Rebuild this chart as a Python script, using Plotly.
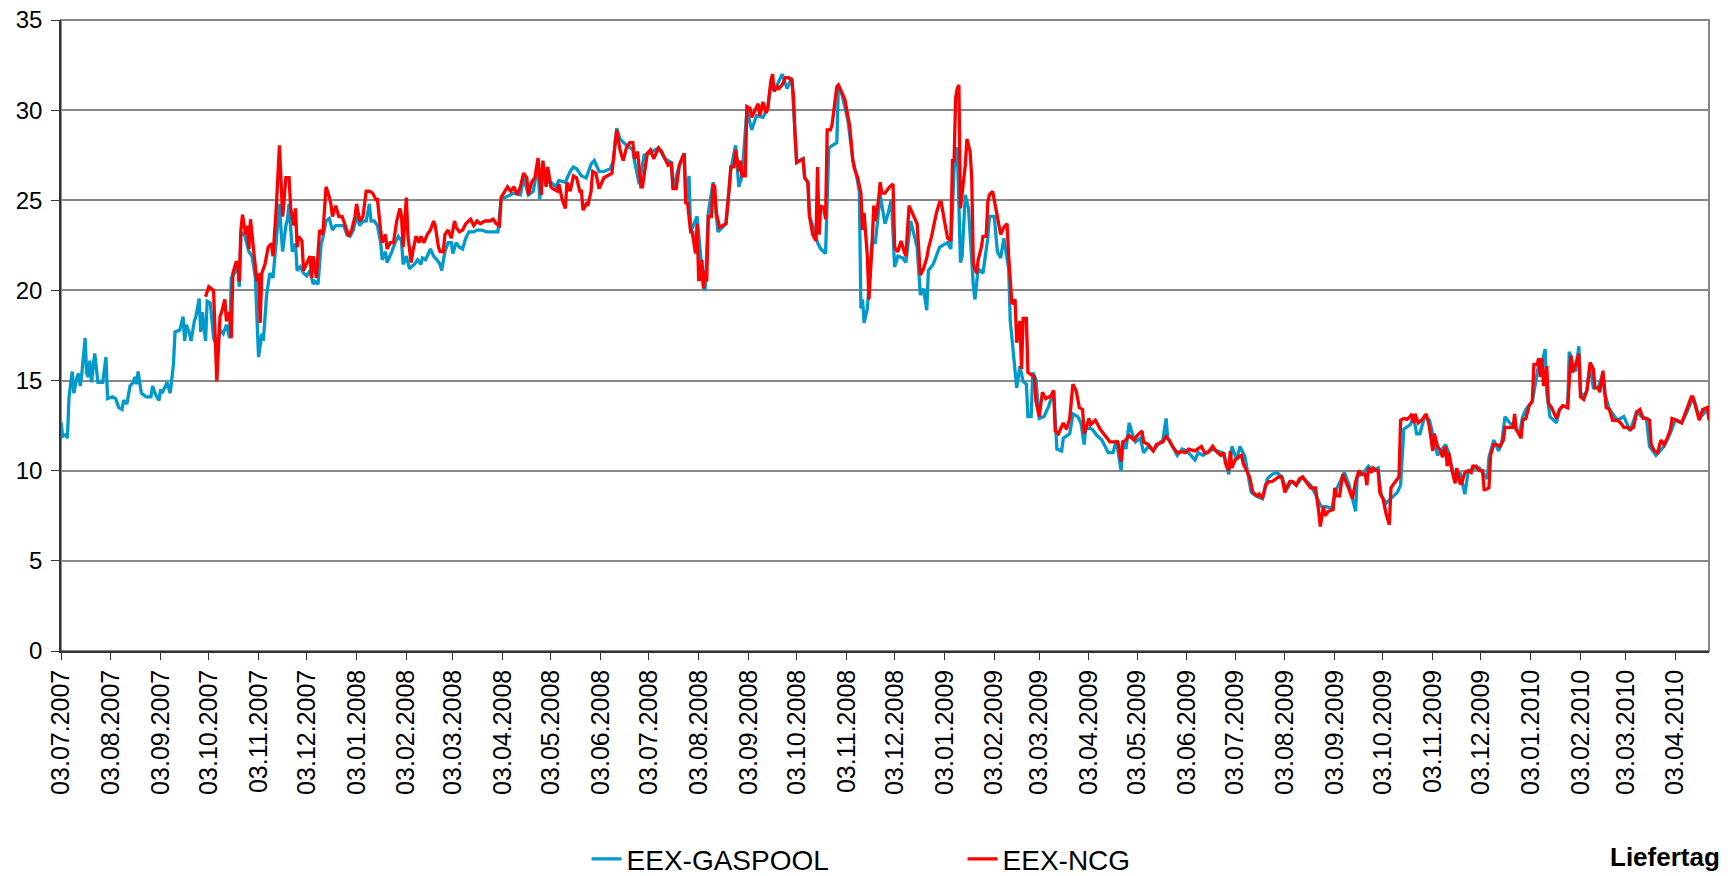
import pandas as pd
import plotly.graph_objects as go

# Delivery days are stored as day offsets from the first delivery day (03.07.2007)
START_DAY = "2007-07-03"
END_DAY = "2010-04-24"

gaspool_day = [
    0, 1, 3, 4, 5, 6, 7, 8, 10, 11, 12, 13, 15, 16, 17, 18, 19, 21, 23, 26, 28, 29, 32, 34, 36, 38, 39, 41,
    43, 45, 46, 47, 48, 50, 53, 56, 57, 59, 61, 62, 63, 66, 68, 70, 71, 74, 76, 77, 78, 80, 81, 83, 84, 86,
    87, 88, 89, 90, 91, 93, 95, 97, 99, 101, 103, 105, 106, 108, 110, 111, 112, 114, 117, 119, 121, 122, 123,
    125, 126, 128, 130, 132, 134, 136, 137, 138, 140, 141, 142, 144, 146, 147, 149, 151, 153, 155, 157, 158,
    160, 162, 163, 165, 167, 169, 171, 174, 176, 178, 180, 182, 184, 186, 188, 190, 192, 193, 195, 197, 199,
    200, 202, 203, 205, 206, 208, 210, 212, 213, 215, 217, 218, 220, 222, 224, 225, 227, 230, 232, 234, 236,
    237, 239, 241, 243, 244, 246, 248, 250, 252, 254, 257, 259, 262, 265, 269, 272, 274, 276, 279, 282, 286,
    288, 291, 294, 297, 298, 300, 302, 305, 308, 310, 314, 317, 319, 321, 324, 327, 330, 332, 335, 338, 342,
    344, 346, 348, 350, 352, 356, 357, 360, 363, 366, 372, 376, 380, 381, 385, 388, 389, 391, 392, 396, 398,
    400, 401, 403, 406, 409, 414, 417, 420, 422, 424, 427, 430, 433, 437, 440, 442, 444, 449, 452, 455, 457,
    458, 462, 463, 465, 466, 468, 471, 473, 476, 478, 481, 483, 484, 486, 490, 493, 495, 497, 498, 499, 500,
    502, 505, 507, 510, 513, 515, 517, 519, 521, 524, 526, 529, 533, 535, 537, 539, 540, 543, 547, 549, 552,
    554, 555, 556, 558, 559, 560, 561, 563, 565, 566, 568, 569, 571, 574, 577, 578, 581, 583, 585, 587, 590,
    591, 593, 595, 597, 599, 601, 602, 604, 605, 607, 609, 612, 615, 618, 620, 623, 624, 628, 630, 633, 635,
    637, 638, 642, 645, 648, 652, 655, 657, 660, 661, 663, 665, 667, 669, 672, 674, 677, 680, 683, 686, 688,
    689, 692, 695, 698, 701, 706, 708, 711, 717, 723, 725, 727, 729, 732, 734, 737, 741, 744, 748, 751, 754,
    757, 760, 763, 766, 769, 773, 778, 781, 784, 785, 788, 791, 794, 799, 802, 806, 807, 811, 814, 817, 820,
    822, 825, 828, 832, 834, 836, 840, 842, 844, 846, 849, 852, 854, 857, 862, 864, 865, 868, 871, 874, 876,
    879, 883, 888, 889, 892, 895, 897, 899, 902, 905, 908, 910, 912, 916, 918, 920, 922, 924, 925, 927, 931,
    933, 935, 938, 939, 943, 945, 946, 948, 950, 952, 954, 957, 960, 961, 964, 969, 973, 977, 981, 984, 987,
    989, 993, 998, 1002, 1005, 1009, 1012, 1015, 1017, 1020, 1023, 1025, 1026,
]
gaspool_price = [
    12.7, 11.9, 12.0, 11.8, 14.1, 14.9, 15.5, 14.3, 15.2, 15.4, 14.7, 15.4, 17.35, 15.4, 15.2, 16.1, 14.9,
    16.5, 14.9, 14.9, 16.3, 14.0, 14.1, 14.0, 13.5, 13.4, 13.9, 13.7, 14.7, 14.9, 15.2, 14.8, 15.5, 14.3,
    14.1, 14.1, 14.7, 14.2, 13.9, 14.5, 14.3, 14.9, 14.3, 15.9, 17.7, 17.8, 18.55, 17.2, 18.1, 17.6, 17.2,
    18.3, 18.55, 19.55, 17.7, 18.8, 18.05, 17.2, 19.4, 19.3, 17.35, 16.9, 17.8, 17.6, 18.1, 17.35, 20.7,
    20.95, 21.4, 20.2, 23.1, 23.2, 22.15, 21.9, 20.7, 18.3, 16.3, 17.6, 17.2, 19.75, 20.95, 20.7, 22.6, 24.8,
    23.35, 22.15, 23.6, 23.95, 24.8, 22.15, 22.6, 21.1, 21.3, 20.95, 20.8, 21.1, 20.35, 20.5, 20.35, 22.6,
    22.9, 23.85, 24.0, 23.35, 23.6, 23.6, 23.6, 23.1, 23.0, 23.35, 24.1, 23.6, 23.85, 23.85, 24.8, 23.85,
    23.85, 23.6, 22.65, 21.7, 22.15, 21.55, 21.9, 22.15, 22.65, 23.0, 22.75, 21.45, 21.9, 21.2, 21.3, 21.45,
    21.7, 21.45, 21.8, 21.7, 22.3, 21.9, 21.7, 21.45, 21.1, 22.15, 22.65, 22.65, 22.05, 22.65, 22.4, 22.3,
    22.9, 23.25, 23.25, 23.35, 23.35, 23.25, 23.25, 23.25, 25.05, 25.15, 25.3, 25.4, 25.3, 26.25, 25.3, 25.5,
    27.0, 25.05, 26.75, 26.0, 26.0, 25.75, 26.1, 26.0, 26.6, 26.85, 26.75, 26.35, 26.25, 27.0, 27.2, 26.6,
    26.6, 26.75, 27.2, 29.0, 28.4, 28.2, 28.05, 27.8, 27.2, 25.9, 27.5, 27.6, 27.9, 27.3, 27.1, 25.65, 26.95,
    27.6, 24.9, 26.35, 23.25, 24.1, 21.9, 20.2, 20.0, 24.3, 26.0, 23.25, 23.7, 26.7, 28.05, 25.75, 26.35,
    30.0, 28.9, 29.7, 29.6, 30.1, 31.5, 31.05, 32.0, 31.2, 31.8, 28.4, 27.1, 27.3, 26.25, 26.0, 24.1, 23.6,
    22.65, 22.3, 22.05, 27.9, 28.05, 28.2, 31.4, 30.95, 29.4, 27.2, 26.5, 25.5, 19.0, 19.5, 18.2, 19.0,
    22.65, 22.65, 25.3, 23.7, 24.3, 25.05, 21.3, 21.9, 21.8, 21.55, 23.85, 22.4, 19.75, 20.1, 18.9, 21.1,
    21.45, 22.4, 22.5, 22.65, 22.3, 25.05, 26.75, 27.95, 25.3, 21.55, 21.9, 25.3, 24.55, 22.9, 20.25, 19.5,
    21.2, 20.95, 22.9, 24.1, 24.1, 22.15, 21.8, 22.9, 21.2, 18.3, 16.4, 14.6, 15.8, 14.95, 14.8, 13.0, 13.0,
    15.45, 15.05, 12.9, 13.0, 13.6, 14.45, 11.2, 11.1, 11.8, 12.05, 13.15, 13.0, 12.65, 11.45, 12.4, 12.3,
    11.95, 11.7, 11.0, 11.0, 11.7, 10.0, 11.6, 11.2, 12.65, 12.05, 11.6, 11.8, 11.0, 11.35, 11.1, 11.45,
    11.7, 12.9, 11.8, 11.35, 10.85, 11.2, 11.1, 10.6, 11.0, 10.85, 11.2, 11.0, 10.6, 9.8, 11.35, 10.6, 11.35,
    10.8, 8.8, 8.6, 8.45, 9.55, 9.8, 9.9, 9.65, 8.95, 9.4, 9.2, 9.65, 9.2, 8.7, 8.1, 8.0, 8.0, 7.9, 8.95,
    9.9, 9.2, 7.75, 9.65, 9.9, 10.25, 10.0, 10.15, 8.6, 8.2, 8.45, 8.8, 9.2, 12.3, 12.55, 13.0, 12.05, 12.05,
    13.0, 12.8, 12.05, 10.85, 11.45, 11.0, 10.5, 9.4, 9.9, 8.7, 9.9, 10.15, 10.15, 9.55, 10.75, 11.7, 11.1,
    11.6, 13.0, 12.65, 12.4, 12.05, 13.0, 13.4, 13.85, 14.8, 15.9, 16.0, 16.75, 14.3, 13.0, 12.65, 13.4,
    13.6, 13.5, 16.6, 15.5, 16.9, 14.35, 14.1, 14.45, 15.9, 14.6, 14.6, 15.4, 14.3, 13.4, 12.8, 13.0, 12.2,
    13.3, 13.0, 12.9, 11.35, 10.85, 11.35, 12.1, 12.8, 12.65, 13.2, 13.85, 13.85, 12.9, 13.2, 13.5, 12.9,
]

ncg_day = [
    90, 92, 95, 96, 97, 99, 100, 102, 103, 105, 106, 107, 109, 110, 111, 112, 113, 115, 116, 117, 118, 120,
    122, 123, 124, 125, 127, 129, 131, 132, 134, 136, 137, 138, 140, 142, 143, 145, 146, 147, 148, 150, 151,
    153, 155, 156, 157, 159, 160, 161, 163, 165, 167, 168, 169, 171, 173, 175, 177, 179, 181, 183, 184, 186,
    188, 190, 192, 194, 196, 197, 199, 200, 202, 203, 205, 207, 209, 211, 212, 213, 215, 216, 218, 219, 221,
    223, 224, 226, 228, 230, 232, 233, 235, 236, 238, 239, 241, 243, 245, 246, 248, 250, 252, 255, 257, 259,
    261, 264, 267, 269, 271, 273, 274, 276, 278, 280, 282, 284, 286, 288, 290, 291, 293, 295, 297, 299, 300,
    302, 303, 305, 306, 309, 310, 312, 314, 315, 317, 319, 321, 323, 324, 325, 327, 328, 330, 331, 333, 335,
    338, 340, 343, 345, 346, 348, 350, 352, 354, 356, 357, 359, 361, 362, 365, 367, 369, 372, 374, 376, 378,
    380, 381, 383, 385, 388, 389, 390, 392, 393, 395, 396, 397, 398, 399, 400, 401, 402, 403, 405, 406, 407,
    408, 410, 412, 414, 416, 417, 419, 420, 422, 423, 424, 426, 427, 429, 430, 432, 434, 435, 437, 439, 440,
    442, 443, 444, 446, 447, 449, 451, 453, 455, 456, 457, 458, 460, 462, 463, 465, 466, 468, 470, 471, 472,
    473, 475, 476, 477, 479, 480, 481, 483, 484, 486, 488, 490, 491, 493, 494, 496, 498, 499, 500, 502, 503,
    505, 506, 507, 509, 510, 511, 513, 516, 518, 519, 521, 523, 525, 526, 528, 530, 533, 535, 537, 539, 540,
    542, 545, 547, 548, 550, 552, 554, 555, 556, 557, 558, 559, 560, 561, 563, 564, 566, 567, 568, 570, 571,
    573, 574, 576, 577, 578, 580, 582, 583, 585, 587, 589, 590, 592, 594, 595, 597, 598, 599, 601, 602, 604,
    606, 607, 609, 611, 613, 615, 616, 618, 619, 621, 624, 626, 628, 630, 632, 634, 636, 637, 640, 641, 642,
    644, 647, 650, 653, 656, 658, 660, 661, 663, 665, 668, 670, 673, 674, 677, 680, 682, 686, 688, 690, 692,
    695, 698, 700, 702, 706, 710, 712, 714, 717, 719, 722, 724, 725, 727, 728, 729, 731, 733, 735, 736, 738,
    740, 742, 745, 746, 748, 750, 752, 754, 756, 758, 760, 762, 763, 765, 767, 769, 771, 773, 775, 778, 781,
    782, 783, 784, 786, 787, 789, 792, 793, 794, 796, 798, 800, 802, 804, 806, 808, 810, 812, 813, 814, 816,
    817, 819, 820, 821, 823, 825, 827, 828, 830, 833, 834, 836, 838, 840, 841, 842, 843, 845, 847, 850, 852,
    854, 855, 857, 859, 860, 862, 863, 864, 866, 868, 869, 871, 872, 874, 876, 878, 879, 881, 883, 885, 886,
    887, 889, 890, 892, 894, 896, 898, 899, 902, 904, 905, 906, 909, 910, 912, 914, 916, 917, 919, 920, 921,
    922, 923, 925, 926, 928, 931, 933, 935, 938, 940, 941, 943, 945, 946, 948, 950, 952, 954, 955, 957, 958,
    960, 961, 962, 964, 966, 969, 971, 973, 975, 977, 979, 981, 983, 985, 987, 989, 990, 992, 994, 996, 998,
    1000, 1002, 1003, 1006, 1009, 1011, 1013, 1015, 1016, 1018, 1020, 1022, 1025, 1026,
]
ncg_price = [
    19.65, 20.2, 20.0, 17.1, 14.95, 18.55, 18.8, 19.5, 18.3, 18.8, 17.35, 20.95, 21.55, 21.55, 20.5, 23.35,
    24.2, 23.1, 23.6, 22.3, 23.95, 22.15, 20.5, 20.95, 18.2, 20.95, 21.45, 22.4, 22.6, 21.9, 24.55, 28.05,
    25.5, 24.1, 26.25, 26.25, 24.55, 23.6, 24.55, 22.4, 23.0, 22.75, 21.1, 21.45, 21.9, 20.7, 21.9, 20.7,
    22.05, 23.35, 23.1, 25.75, 25.2, 24.8, 24.1, 24.7, 24.1, 24.1, 23.6, 23.0, 23.35, 24.1, 24.8, 23.85,
    24.1, 25.5, 25.5, 25.4, 25.05, 25.05, 23.35, 22.65, 23.1, 22.3, 22.65, 22.65, 23.85, 24.55, 24.1, 22.4,
    25.15, 23.0, 21.55, 22.15, 23.0, 22.65, 23.0, 22.65, 23.1, 23.35, 23.85, 23.6, 22.4, 22.15, 22.15, 23.1,
    23.35, 22.9, 23.85, 23.5, 23.25, 23.35, 23.7, 23.95, 23.6, 23.85, 23.7, 23.85, 23.85, 23.95, 23.7, 23.6,
    25.15, 25.5, 25.75, 25.5, 25.75, 25.3, 25.75, 26.5, 26.25, 25.3, 26.0, 26.25, 27.35, 25.3, 27.2, 25.75,
    26.85, 25.75, 25.65, 25.5, 25.9, 25.05, 24.55, 26.0, 25.5, 26.35, 26.25, 25.5, 25.5, 24.45, 24.8, 24.7,
    25.5, 26.6, 26.5, 25.65, 26.25, 26.35, 26.5, 28.2, 28.9, 27.8, 27.2, 27.9, 28.2, 28.2, 27.3, 27.7, 25.75,
    25.75, 27.6, 27.8, 27.3, 27.9, 27.7, 27.3, 26.95, 27.1, 25.65, 25.65, 26.95, 27.6, 24.8, 24.9, 23.25,
    23.25, 22.05, 23.7, 20.6, 20.6, 21.7, 20.1, 21.1, 20.5, 24.1, 24.1, 25.9, 25.75, 24.3, 23.5, 23.6, 23.7,
    25.65, 26.85, 26.85, 27.8, 26.6, 27.2, 26.35, 26.35, 30.2, 30.1, 29.6, 29.95, 30.35, 29.7, 30.45, 29.85,
    30.1, 31.65, 32.0, 31.05, 31.3, 31.2, 31.4, 31.8, 31.8, 31.65, 30.8, 28.65, 27.1, 27.2, 27.3, 26.25,
    26.0, 24.1, 23.1, 22.75, 26.85, 23.1, 24.7, 24.55, 23.95, 28.9, 28.9, 29.15, 29.95, 31.3, 31.4, 30.95,
    30.6, 29.6, 29.15, 27.2, 26.75, 26.25, 25.4, 23.35, 24.3, 21.9, 19.5, 22.65, 24.7, 23.85, 25.05, 26.0,
    25.4, 25.4, 25.75, 25.9, 22.4, 22.15, 22.75, 22.15, 21.9, 24.7, 24.3, 23.7, 20.85, 21.2, 21.8, 22.3,
    23.0, 24.3, 24.9, 24.9, 23.85, 22.9, 22.75, 27.2, 27.2, 30.7, 31.2, 31.4, 24.55, 25.3, 26.95, 28.4, 27.7,
    26.25, 21.45, 20.95, 21.7, 22.4, 23.0, 23.0, 24.9, 25.3, 25.5, 24.55, 24.1, 23.1, 23.5, 23.7, 21.9,
    19.25, 19.5, 17.1, 18.3, 15.65, 18.45, 18.45, 15.45, 15.3, 15.2, 13.85, 13.0, 14.35, 14.0, 14.1, 14.1,
    14.45, 12.2, 12.05, 12.65, 12.3, 12.9, 14.8, 14.45, 13.5, 13.4, 12.05, 12.9, 12.55, 12.65, 12.8, 12.3,
    11.95, 11.6, 11.6, 11.6, 10.5, 11.6, 11.7, 11.95, 11.7, 11.95, 12.2, 11.6, 11.45, 11.1, 11.45, 11.6,
    11.9, 11.7, 11.35, 11.0, 11.05, 11.0, 11.2, 11.1, 11.35, 11.0, 11.0, 11.35, 11.1, 10.85, 11.0, 10.4,
    10.0, 11.1, 10.15, 10.6, 10.75, 10.85, 10.4, 10.0, 9.65, 8.8, 8.6, 8.7, 8.45, 9.2, 9.4, 9.4, 9.55, 9.65,
    9.65, 8.8, 9.05, 9.4, 9.4, 9.2, 9.55, 9.65, 9.4, 9.05, 9.05, 8.45, 7.75, 6.9, 8.0, 7.5, 7.75, 7.85, 9.05,
    8.6, 8.6, 9.8, 9.4, 8.95, 8.45, 9.4, 10.0, 9.8, 9.8, 9.2, 10.15, 9.9, 10.15, 10.0, 10.0, 8.8, 8.45, 7.6,
    7.0, 9.05, 9.3, 9.65, 12.8, 12.9, 12.85, 13.0, 13.15, 12.65, 13.15, 12.65, 12.8, 13.15, 12.4, 11.1,
    12.05, 11.35, 11.1, 10.75, 11.35, 10.25, 11.0, 10.0, 9.3, 10.15, 9.3, 9.3, 9.9, 10.0, 9.9, 10.25, 10.25,
    10.0, 10.0, 8.95, 8.95, 9.05, 10.85, 11.45, 11.45, 11.35, 11.7, 12.4, 12.4, 12.4, 13.15, 12.3, 11.8,
    12.8, 12.9, 13.6, 13.85, 15.9, 15.9, 16.25, 15.2, 16.25, 14.7, 15.8, 13.75, 13.5, 12.9, 13.4, 13.6,
    13.5, 16.4, 15.45, 15.9, 16.5, 14.1, 13.95, 14.45, 16.0, 15.65, 14.6, 14.6, 14.35, 15.55, 14.35, 13.5,
    13.4, 12.8, 12.8, 12.65, 12.4, 12.4, 12.3, 12.4, 13.25, 13.4, 12.9, 12.9, 12.8, 11.45, 11.1, 11.0, 11.7,
    11.45, 11.8, 12.3, 12.9, 12.8, 12.65, 13.15, 13.6, 14.1, 14.1, 13.5, 12.8, 13.4, 13.5, 12.8,
]

series = [
    ("EEX-GASPOOL", gaspool_day, gaspool_price, "#0099CC"),
    ("EEX-NCG", ncg_day, ncg_price, "#FF0000"),
]

FONT = "Arial, 'Liberation Sans', sans-serif"
start = pd.Timestamp(START_DAY)

fig = go.Figure()
for name, days, prices, color in series:
    dates = start + pd.to_timedelta(days, unit="D")
    fig.add_trace(go.Scatter(
        x=dates, y=prices, name=name, mode="lines",
        line=dict(color=color, width=3.3),
    ))

fig.update_layout(
    width=1735, height=876,
    margin=dict(l=61, r=26, t=20, b=225, autoexpand=False),
    paper_bgcolor="white", plot_bgcolor="white",
    font=dict(family=FONT, color="black"),
    showlegend=True,
    legend=dict(
        orientation="h", x=0.3189, xanchor="left", y=-0.330, yanchor="middle",
        font=dict(size=28, family=FONT), entrywidth=331, entrywidthmode="pixels",
        bgcolor="rgba(0,0,0,0)", itemclick=False, itemdoubleclick=False,
    ),
    xaxis=dict(
        type="date", range=[START_DAY, END_DAY],
        tick0=START_DAY, dtick="M1", tickformat="%d.%m.%Y", tickangle=-90,
        ticks="outside", ticklen=7, tickwidth=1.3, tickcolor="#333333",
        showline=True, linecolor="#333333", linewidth=1.5,
        showgrid=False, zeroline=False, automargin=False,
        tickfont=dict(size=25, family=FONT, color="black"),
    ),
    yaxis=dict(
        range=[0, 35], dtick=5, tick0=0,
        ticks="outside", ticklen=8, tickwidth=1.3, tickcolor="#333333",
        showline=True, linecolor="#333333", linewidth=1.5,
        showgrid=True, gridcolor="#888888", gridwidth=1.6, zeroline=False,
        automargin=False,
        tickfont=dict(size=24, family=FONT, color="black"),
        ticklabelstandoff=4,
    ),
    shapes=[dict(
        type="rect", xref="x domain", yref="y domain", x0=0, x1=1, y0=0, y1=1,
        line=dict(color="#888888", width=2), layer="below",
    )],
    annotations=[dict(
        text="<b>Liefertag</b>", xref="paper", yref="paper", x=1.0079, y=-0.327,
        xanchor="right", yanchor="middle", showarrow=False,
        font=dict(size=26, family=FONT, color="black"),
    )],
)

fig.write_html("out.html", config={"displayModeBar": False})
